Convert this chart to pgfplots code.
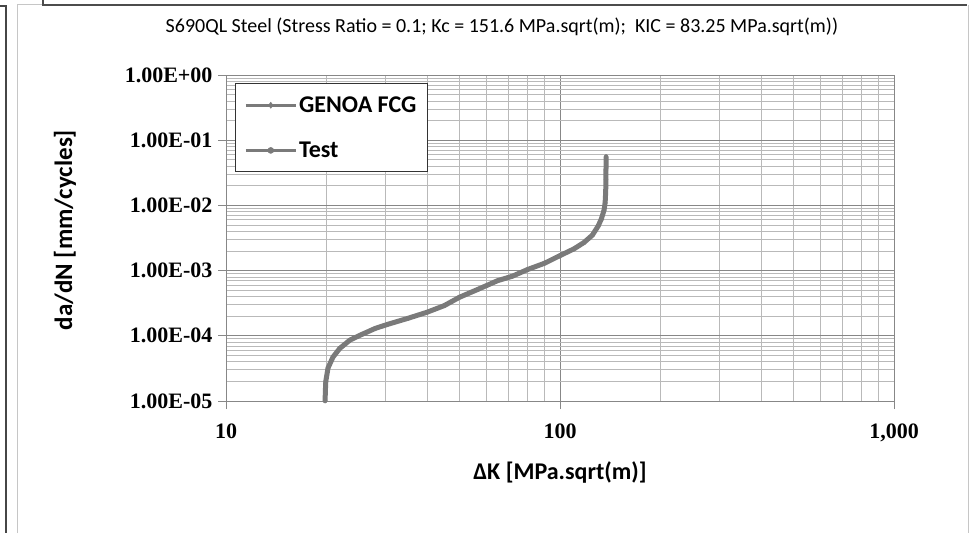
\documentclass[border=0pt]{standalone}
\usepackage{fontspec}
\setmainfont{Carlito}
\newfontfamily\tickfont{Liberation Serif}
\usepackage{pgfplots}
\pgfplotsset{compat=1.18}

\definecolor{curvegray}{RGB}{122,122,122}
\definecolor{majgrid}{RGB}{135,135,135}
\definecolor{mingrid}{RGB}{185,185,185}

% da/dN curve
\pgfplotstableread{
K      dadn
19.8   1.0e-5
19.85  1.5e-5
19.9   2.0e-5
20.2   3.2e-5
20.9   4.7e-5
21.9   6.4e-5
23.5   8.6e-5
25.5   1.05e-4
28     1.3e-4
30.5   1.5e-4
35     1.85e-4
40     2.3e-4
45     2.9e-4
50     3.9e-4
57     5.2e-4
65     7.0e-4
72     8.2e-4
80     1.04e-3
90     1.3e-3
100    1.7e-3
110    2.15e-3
118    2.7e-3
125    3.5e-3
130    4.8e-3
133    6.2e-3
135.5  8.5e-3
136.5  1.1e-2
137    1.6e-2
137.3  2.5e-2
137.3  3.5e-2
137.4  5.6e-2
}\curve

\begin{document}
\begin{tikzpicture}[x=1pt,y=1pt]
\path[use as bounding box] (0,0) rectangle (971,533);
% outer frame pieces
\draw[gray!55!black,line width=2pt] (0,527) -- (6,527) -- (6,0);
\draw[gray!45,line width=1pt] (17,0) -- (17,528) -- (43,528);
\draw[gray!60!black,line width=1.2pt] (43,533) -- (43,528) -- (967,528);
\draw[gray!45,line width=1pt] (968,528) -- (968,0);

\begin{axis}[
    at={(226pt,132pt)}, anchor=south west,
    scale only axis,
    width=668pt, height=326pt,
    xmode=log, ymode=log,
    xmin=10, xmax=1000, ymin=1e-5, ymax=1,
    axis lines=left,
    axis line style={-, majgrid},
    xtick={10,100,1000},
    xticklabels={10,100,{1,000}},
    ytick={1e-5,1e-4,1e-3,1e-2,1e-1,1},
    yticklabels={1.00E-05,1.00E-04,1.00E-03,1.00E-02,1.00E-01,1.00E+00},
    minor x tick num=8,
    grid=both,
    major grid style={majgrid, line width=0.9pt},
    minor grid style={mingrid, line width=0.8pt},
    tick align=outside,
    major tick length=8pt, minor tick length=0pt,
    tick style={majgrid, line width=0.9pt},
    ticklabel style={font=\tickfont\bfseries\fontsize{22}{22}\selectfont},
    xticklabel style={yshift=-11pt},
    yticklabel style={xshift=-2pt},
    title={S690QL Steel (Stress Ratio = 0.1; Kc = 151.6 MPa.sqrt(m);~~KIC = 83.25 MPa.sqrt(m))},
    title style={at={(axis description cs:0.413,1.129)}, anchor=center,
                 font=\fontsize{20}{20}\selectfont},
    xlabel={ΔK [MPa.sqrt(m)]},
    xlabel style={at={(axis description cs:0.5,-0.218)}, anchor=center,
                  font=\bfseries\fontsize{24}{24}\selectfont},
    ylabel={da/dN [mm/cycles]},
    ylabel style={at={(axis description cs:-0.241,0.5245)}, anchor=center,
                  font=\bfseries\fontsize{25}{25}\selectfont},
    legend style={at={(axis description cs:0.0135,0.975)}, anchor=north west,
                  draw=black!80, line width=1pt, fill=white,
                  font=\bfseries\fontsize{24}{24}\selectfont,
                  inner xsep=9pt, inner ysep=11pt, row sep=24pt},
    legend cell align=left,
    legend image code/.code={
        \draw[#1, mark=none, line width=2.5pt] (0pt,0pt) -- (50pt,0pt);
        \draw[#1, only marks, mark size=3pt, line width=0.5pt] plot coordinates {(25pt,0pt)};
    },
]
\addplot[curvegray, line width=2pt, mark=diamond*, mark size=2pt,
         mark options={solid, line width=0.5pt}] table[x=K,y=dadn] {\curve};
\addlegendentry{GENOA FCG}
\addplot[curvegray, line width=5pt, mark=*, mark size=2pt,
         mark options={solid, line width=0.5pt}] table[x=K,y=dadn] {\curve};
\addlegendentry{Test}
\end{axis}
\end{tikzpicture}
\end{document}
